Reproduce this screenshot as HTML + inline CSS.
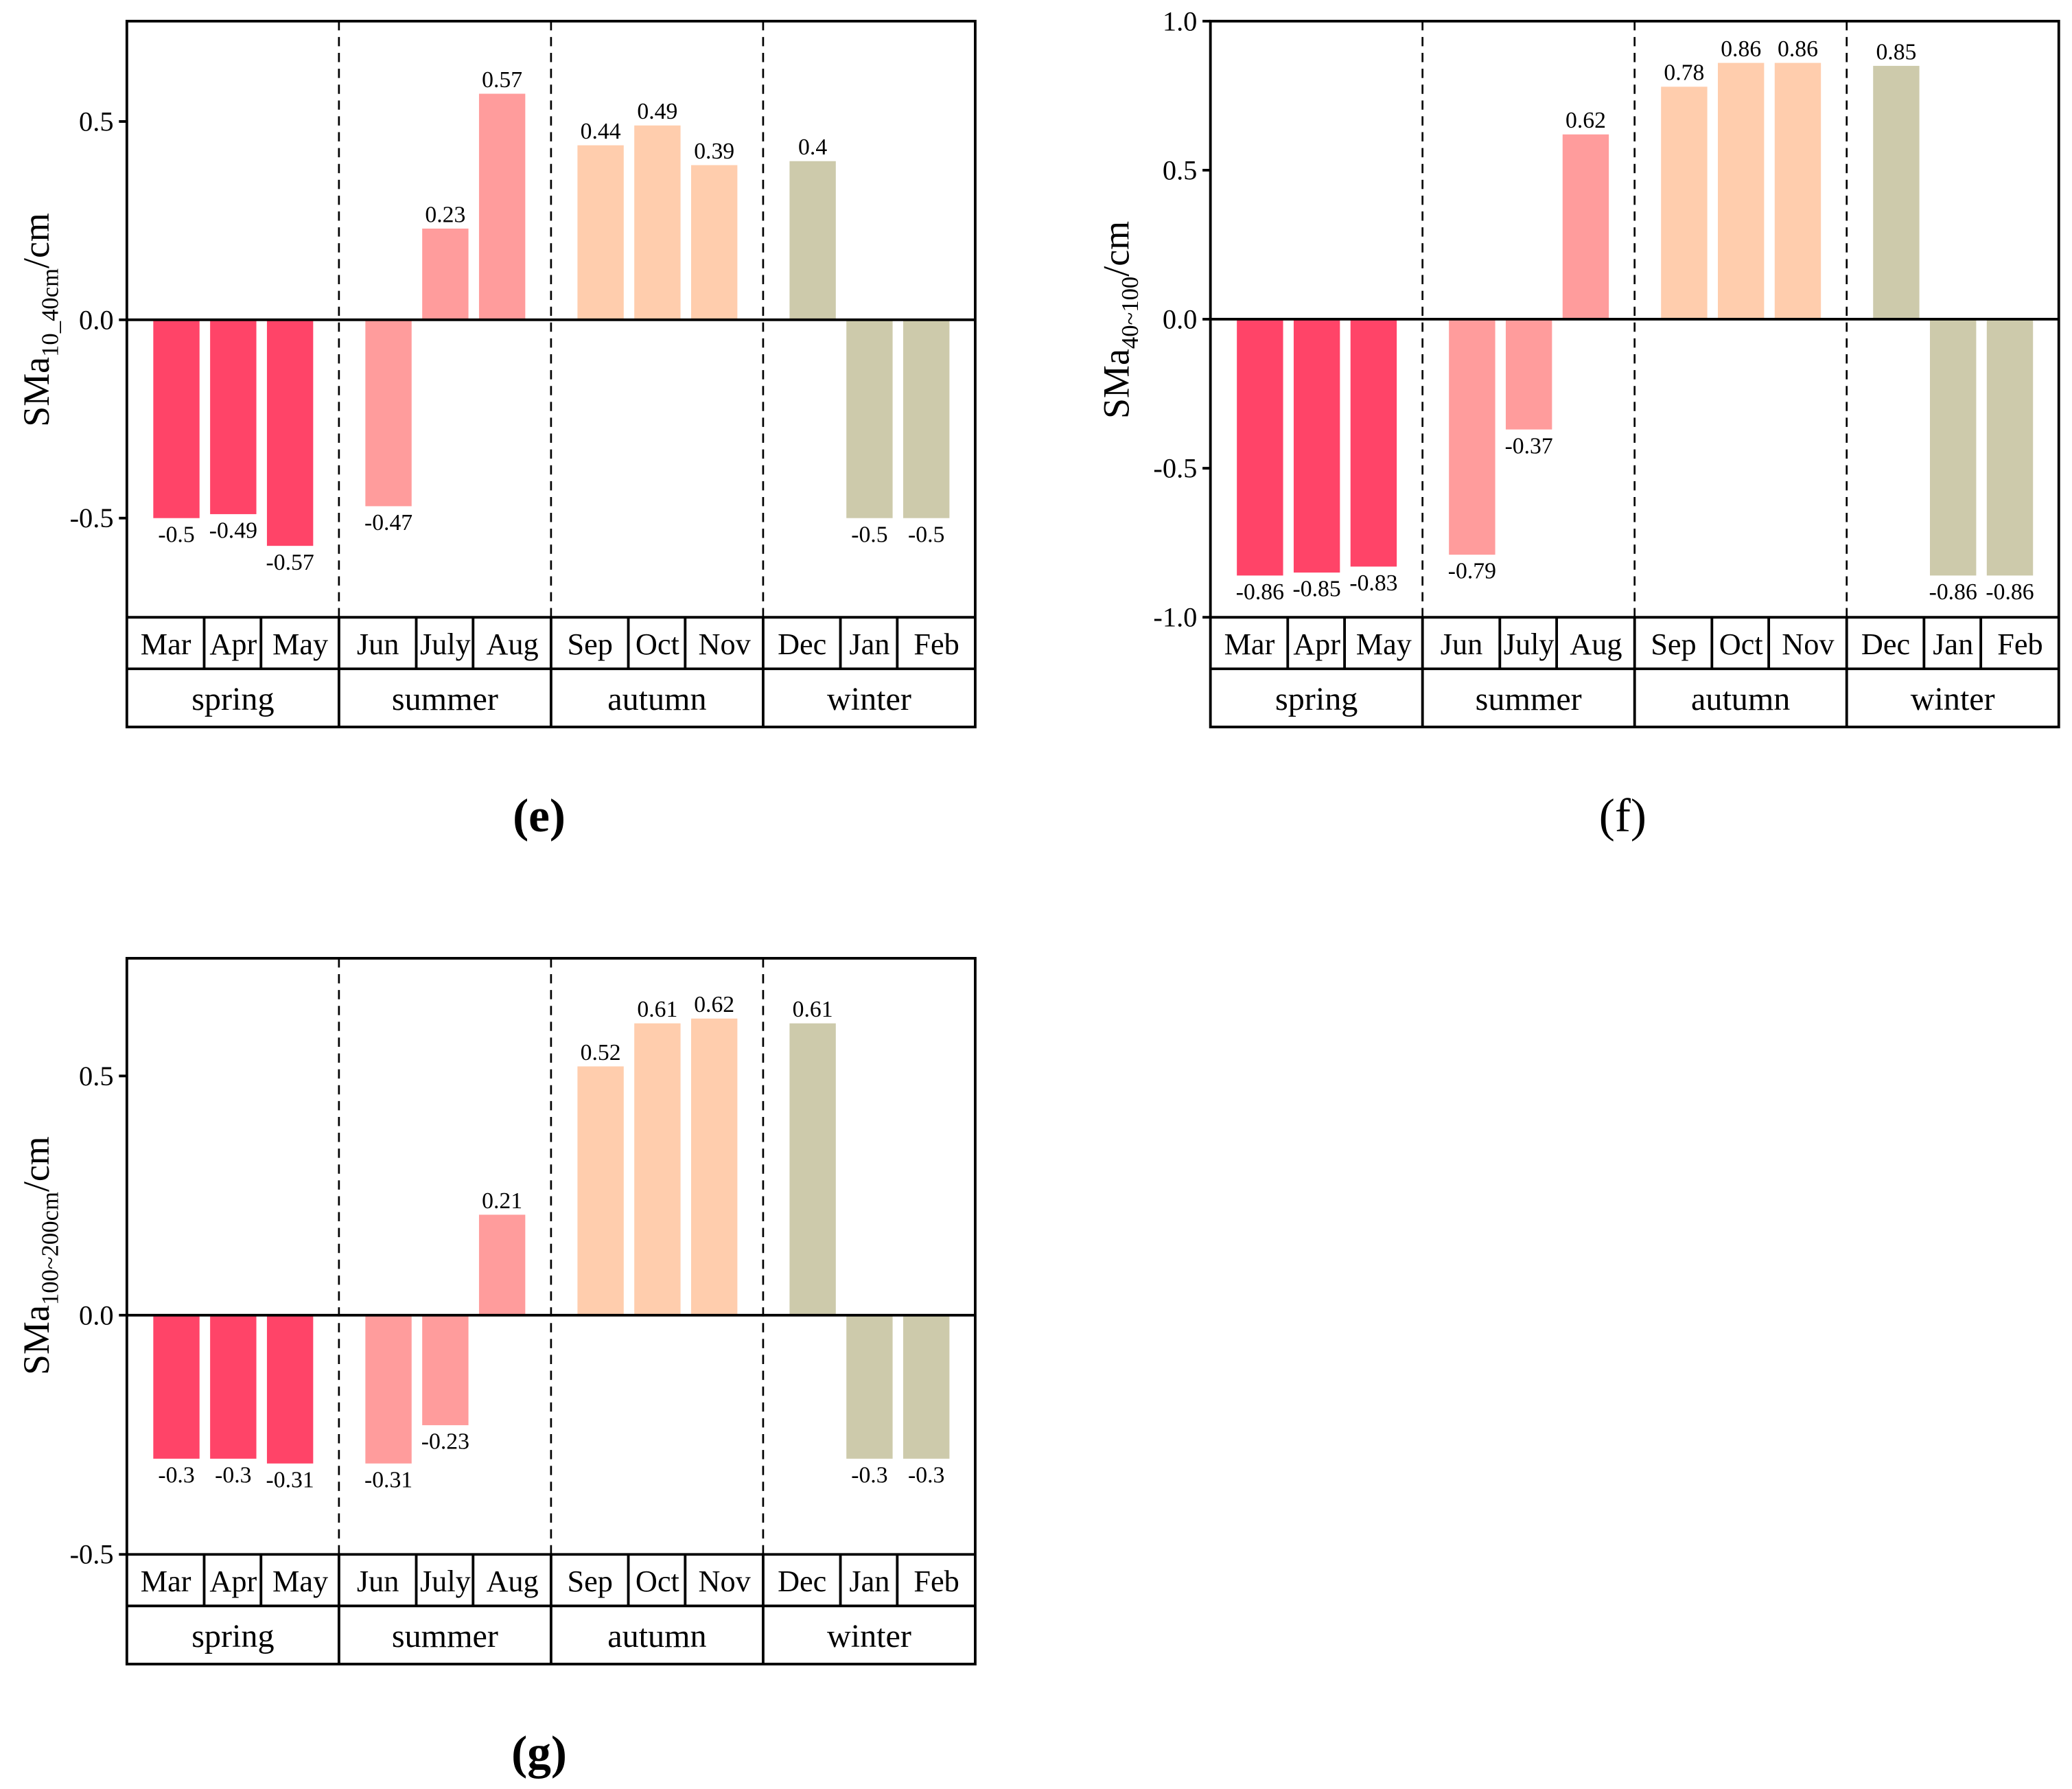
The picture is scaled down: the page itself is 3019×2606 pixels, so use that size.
<!DOCTYPE html>
<html><head><meta charset="utf-8"><style>
html,body{margin:0;padding:0;background:#fff;}
svg{display:block;font-family:"Liberation Serif",serif;}
</style></head><body>
<svg id="fig" xmlns="http://www.w3.org/2000/svg" width="3019" height="2606" viewBox="0 0 1568 1353.5">
<rect x="0" y="0" width="1568" height="1353.5" fill="#fff"/>
</svg>
<script>
const months = ["Mar","Apr","May","Jun","July","Aug","Sep","Oct","Nov","Dec","Jan","Feb"];
const seasons = ["spring","summer","autumn","winter"];
const seasonColors = ["#FF4468","#FF9C9C","#FFCDAD","#CDCAAB"];
const valuesE = [-0.5,-0.49,-0.57,-0.47,0.23,0.57,0.44,0.49,0.39,0.4,-0.5,-0.5];
const valuesF = [-0.86,-0.85,-0.83,-0.79,-0.37,0.62,0.78,0.86,0.86,0.85,-0.86,-0.86];
const valuesG = [-0.3,-0.3,-0.31,-0.31,-0.23,0.21,0.52,0.61,0.62,0.61,-0.3,-0.3];
const ticksE = [-0.5,0.0,0.5];
const ticksF = [-1.0,-0.5,0.0,0.5,1.0];
const ticksG = [-0.5,0.0,0.5];
const labelsE = ["-0.5","-0.49","-0.57","-0.47","0.23","0.57","0.44","0.49","0.39","0.4","-0.5","-0.5"];
const labelsF = ["-0.86","-0.85","-0.83","-0.79","-0.37","0.62","0.78","0.86","0.86","0.85","-0.86","-0.86"];
const labelsG = ["-0.3","-0.3","-0.31","-0.31","-0.23","0.21","0.52","0.61","0.62","0.61","-0.3","-0.3"];

const NS = "http://www.w3.org/2000/svg";
const svg = document.getElementById('fig');
function mk(tag, attrs, parent, text){
  const e = document.createElementNS(NS, tag);
  for (const k in attrs) e.setAttribute(k, attrs[k]);
  if (text !== undefined) e.textContent = text;
  (parent||svg).appendChild(e);
  return e;
}

function panel(cfg){
  const g = mk('g', {});
  
  
  const L = cfg.x, R = cfg.x + 642, T = cfg.y, B = cfg.y + 451;
  const mB = B + 39, sB = B + 83;
  const y = v => T + (cfg.max - v) / (cfg.max - cfg.min) * (B - T);
  const segW = (R - L) / 4;
  const cx = i => L + Math.floor(i/3)*segW + 37.5 + 43*(i%3);
  cfg.values.forEach((v,i) => {
    const y0 = y(0), y1 = y(v);
    const r = mk('rect', {x: cx(i)-17.5, y: Math.min(y0,y1), width: 35, height: Math.abs(y1-y0), fill: seasonColors[Math.floor(i/3)]}, g);
    
    
    const t = mk('text', {x: cx(i), y: v >= 0 ? y1 - 5 : y1 + 18, 'font-size': 17.5, 'text-anchor': 'middle', fill: '#000'}, g, cfg.labels[i]);
    
    
  });
  const z = mk('line', {x1: L, x2: R, y1: y(0), y2: y(0), stroke: '#000', 'stroke-width': 2}, g);
  
  
  for (let s = 1; s < 4; s++){
    const sx = L + s*segW;
    const d = mk('line', {x1: sx, x2: sx, y1: T, y2: B, stroke: '#000', 'stroke-width': 1.4, 'stroke-dasharray': '7,5'}, g);
    
    
    mk('line', {x1: sx, x2: sx, y1: B, y2: sB, stroke: '#000', 'stroke-width': 2}, g);
  }
  for (let i = 0; i < 12; i++){
    if (i%3 === 0) continue;
    const mx = (cx(i-1) + cx(i)) / 2 - 0.5;
    mk('line', {x1: mx, x2: mx, y1: B, y2: mB, stroke: '#000', 'stroke-width': 2}, g);
  }
  mk('rect', {x: L, y: T, width: R-L, height: sB-T, fill: 'none', stroke: '#000', 'stroke-width': 2}, g);
  mk('line', {x1: L, x2: R, y1: B, y2: B, stroke: '#000', 'stroke-width': 2}, g);
  mk('line', {x1: L, x2: R, y1: mB, y2: mB, stroke: '#000', 'stroke-width': 2}, g);
  for (let i = 0; i < 12; i++){
    const s = Math.floor(i/3), j = i%3;
    const left = j === 0 ? L + s*segW : (cx(i-1)+cx(i))/2;
    const right = j === 2 ? L + (s+1)*segW : (cx(i)+cx(i+1))/2;
    const t = mk('text', {x: (left+right)/2, y: B + 28, 'font-size': 23, 'text-anchor': 'middle'}, g, months[i]);
    
    
  }
  seasons.forEach((sn, s) => {
    const t = mk('text', {x: L + (s+0.5)*segW, y: mB + 31, 'font-size': 25, 'text-anchor': 'middle'}, g, sn);
    
    
  });
  cfg.ticks.forEach(v => {
    mk('line', {x1: L-6, x2: L, y1: y(v), y2: y(v), stroke: '#000', 'stroke-width': 2}, g);
    const t = mk('text', {x: L-10, y: y(v)+7, 'font-size': 21, 'text-anchor': 'end'}, g, v.toFixed(1));
    
    
  });
  const ty = mk('text', {x: 0, y: 0, 'font-size': 28, 'text-anchor': 'middle', transform: `translate(${cfg.titleX},${cfg.titleY}) rotate(-90)`}, g);
  
  
  mk('tspan', {}, ty, 'SMa');
  mk('tspan', {'font-size': 18, dy: 7}, ty, cfg.sub);
  mk('tspan', {dy: -7}, ty, '/cm');
  const pl = mk('text', {x: cfg.x + 312, y: B + 162, 'font-size': 36, 'text-anchor': 'middle', 'font-weight': cfg.bold ? 'bold' : 'normal'}, g, cfg.letter);
  
  
}

panel({name:'panel-e', x:96, y:16, min:-0.75, max:0.753, values:valuesE, labels:labelsE, ticks:ticksE, sub:'10_40cm', titleX:37, titleY:242, letter:'(e)', bold:true});
panel({name:'panel-f', x:916, y:16, min:-1.0, max:1.0, values:valuesF, labels:labelsF, ticks:ticksF, sub:'40~100', titleX:854, titleY:242, letter:'(f)', bold:false});
panel({name:'panel-g', x:96, y:725, min:-0.5, max:0.746, values:valuesG, labels:labelsG, ticks:ticksG, sub:'100~200cm', titleX:37, titleY:950, letter:'(g)', bold:true});
</script>
</body></html>
